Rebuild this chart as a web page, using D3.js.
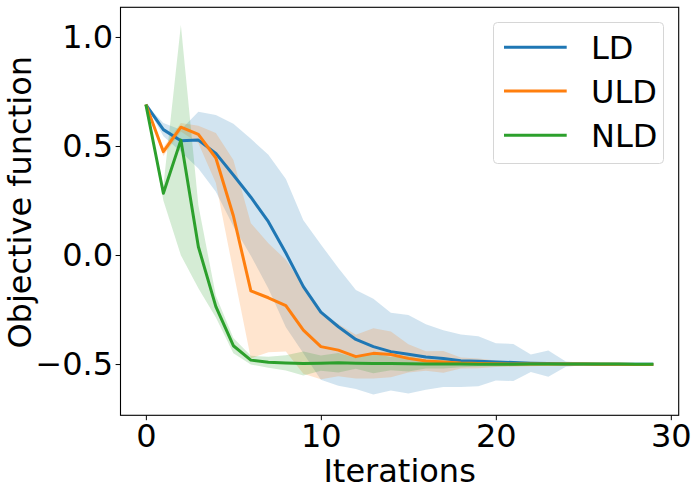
<!DOCTYPE html>
<html>
<head>
<meta charset="utf-8">
<script src="https://cdn.jsdelivr.net/npm/d3@7"></script>
<style>
  html, body { margin: 0; padding: 0; background: #fff; }
  svg { display: block; }
  text { font-family: "DejaVu Sans", sans-serif; }
</style>
</head>
<body>
<div id="chart"></div>
<script>
// ---- data ----
const iterations = [0,1,2,3,4,5,6,7,8,9,10,11,12,13,14,15,16,17,18,19,20,21,22,23,24,25,26,27,28,29];

const ldMean = [0.69, 0.575, 0.524, 0.527, 0.466, 0.367, 0.265, 0.153, 0.009, -0.145, -0.262, -0.329, -0.387, -0.42, -0.443, -0.455, -0.468, -0.475, -0.485, -0.487, -0.49, -0.493, -0.496, -0.498, -0.5, -0.5, -0.501, -0.501, -0.501, -0.501];
const ldStd  = [0, 0.03, 0.05, 0.13, 0.176, 0.235, 0.268, 0.307, 0.34, 0.305, 0.31, 0.27, 0.227, 0.22, 0.178, 0.18, 0.15, 0.13, 0.12, 0.115, 0.085, 0.085, 0.04, 0.06, 0.012, 0.006, 0.005, 0.004, 0.004, 0.004];

const uldMean = [0.69, 0.474, 0.586, 0.553, 0.445, 0.18, -0.164, -0.196, -0.232, -0.344, -0.42, -0.436, -0.466, -0.451, -0.456, -0.474, -0.486, -0.49, -0.495, -0.497, -0.499, -0.5, -0.5, -0.5, -0.5, -0.5, -0.501, -0.501, -0.502, -0.502];
const uldStd  = [0, 0.02, 0.02, 0.04, 0.115, 0.256, 0.31, 0.25, 0.21, 0.2, 0.15, 0.12, 0.1, 0.115, 0.105, 0.065, 0.045, 0.05, 0.025, 0.022, 0.015, 0.012, 0.01, 0.008, 0.006, 0.006, 0.008, 0.006, 0.005, 0.005];

const nldMean = [0.69, 0.283, 0.527, 0.038, -0.237, -0.416, -0.482, -0.492, -0.495, -0.497, -0.496, -0.494, -0.496, -0.497, -0.498, -0.499, -0.5, -0.5, -0.5, -0.501, -0.501, -0.501, -0.5, -0.5, -0.5, -0.5, -0.5, -0.5, -0.501, -0.501];
const nldStd  = [0, 0.033, 0.528, 0.19, 0.05, 0.035, 0.02, 0.025, 0.035, 0.055, 0.035, 0.045, 0.025, 0.045, 0.03, 0.035, 0.02, 0.02, 0.015, 0.01, 0.01, 0.008, 0.006, 0.005, 0.005, 0.005, 0.006, 0.005, 0.004, 0.004];

const seriesNames = ["LD", "ULD", "NLD"];
const seriesColors = ["#1f77b4", "#ff7f0e", "#2ca02c"];

const xTicks = [0, 10, 20, 30];
const yTicks = [-0.5, 0.0, 0.5, 1.0];
const yTickLabels = ["\u22120.5", "0.0", "0.5", "1.0"];

const xLabel = "Iterations";
const yLabel = "Objective function";

// ---- layout ----
const W = 696, H = 491;
const plot = { left: 120.5, right: 678.7, top: 7.3, bottom: 415.3 };
const fontPx = 32;
const tickLen = 4.9;

const svg = d3.select("#chart").append("svg")
  .attr("width", W).attr("height", H)
  .attr("viewBox", `0 0 ${W} ${H}`);

svg.append("rect").attr("width", W).attr("height", H).attr("fill", "#fff");

const x = d3.scaleLinear().domain([-1.45, 30.45]).range([plot.left, plot.right]);
const y = d3.scaleLinear().domain([-0.735, 1.136]).range([plot.bottom, plot.top]);

const series = [
  { name: seriesNames[0], color: seriesColors[0], mean: ldMean, std: ldStd },
  { name: seriesNames[1], color: seriesColors[1], mean: uldMean, std: uldStd },
  { name: seriesNames[2], color: seriesColors[2], mean: nldMean, std: nldStd }
];

const rows = s => iterations.map((it, i) => ({ it, m: s.mean[i], sd: s.std[i] }));

const area = d3.area()
  .x(d => x(d.it))
  .y0(d => y(d.m - d.sd))
  .y1(d => y(d.m + d.sd));
const line = d3.line().x(d => x(d.it)).y(d => y(d.m));

const g = svg.append("g");
// fills (below lines, as in matplotlib)
series.forEach(s => {
  g.append("path").datum(rows(s))
    .attr("d", area)
    .attr("fill", s.color)
    .attr("fill-opacity", 0.2)
    .attr("stroke", "none");
});
series.forEach(s => {
  g.append("path").datum(rows(s))
    .attr("d", line)
    .attr("fill", "none")
    .attr("stroke", s.color)
    .attr("stroke-width", 3)
    .attr("stroke-linejoin", "round")
    .attr("stroke-linecap", "butt");
});

// axes
const xAxis = d3.axisBottom(x).tickValues(xTicks).tickSize(tickLen).tickPadding(4)
  .tickFormat(d3.format("d"));
const gx = svg.append("g").attr("transform", `translate(0,${plot.bottom})`).call(xAxis);
gx.select(".domain").remove();
gx.selectAll(".tick line").attr("stroke", "#000").attr("stroke-width", 1);
gx.selectAll(".tick text").attr("font-size", fontPx).attr("fill", "#000")
  .attr("font-family", "DejaVu Sans");

const yAxis = d3.axisLeft(y).tickValues(yTicks).tickSize(tickLen).tickPadding(2.5)
  .tickFormat((d, i) => yTickLabels[i]);
const gy = svg.append("g").attr("transform", `translate(${plot.left},0)`).call(yAxis);
gy.select(".domain").remove();
gy.selectAll(".tick line").attr("stroke", "#000").attr("stroke-width", 1);
gy.selectAll(".tick text").attr("font-size", fontPx).attr("fill", "#000")
  .attr("font-family", "DejaVu Sans");

// spines
svg.append("rect")
  .attr("x", plot.left).attr("y", plot.top)
  .attr("width", plot.right - plot.left).attr("height", plot.bottom - plot.top)
  .attr("fill", "none").attr("stroke", "#000").attr("stroke-width", 1.1);

// axis labels
svg.append("text")
  .attr("x", (plot.left + plot.right) / 2).attr("y", 482)
  .attr("text-anchor", "middle").attr("font-size", fontPx).attr("fill", "#000")
  .text(xLabel);
svg.append("text")
  .attr("transform", `translate(31,${(plot.top + plot.bottom) / 2 - 9}) rotate(-90)`)
  .attr("text-anchor", "middle").attr("font-size", fontPx).attr("fill", "#000")
  .text(yLabel);

// legend
const lg = svg.append("g");
lg.append("rect")
  .attr("x", 493.5).attr("y", 22.5).attr("width", 170).attr("height", 141)
  .attr("rx", 4).attr("ry", 4)
  .attr("fill", "#fff").attr("fill-opacity", 0.8)
  .attr("stroke", "#d6d6d6").attr("stroke-width", 1);
const legendY = [47.3, 91, 135.3];
series.forEach((s, i) => {
  lg.append("line")
    .attr("x1", 504).attr("x2", 566.7)
    .attr("y1", legendY[i]).attr("y2", legendY[i])
    .attr("stroke", s.color).attr("stroke-width", 3);
  lg.append("text")
    .attr("x", 591).attr("y", legendY[i])
    .attr("dy", "0.36em")
    .attr("font-size", fontPx).attr("fill", "#000")
    .text(s.name);
});
</script>
</body>
</html>
